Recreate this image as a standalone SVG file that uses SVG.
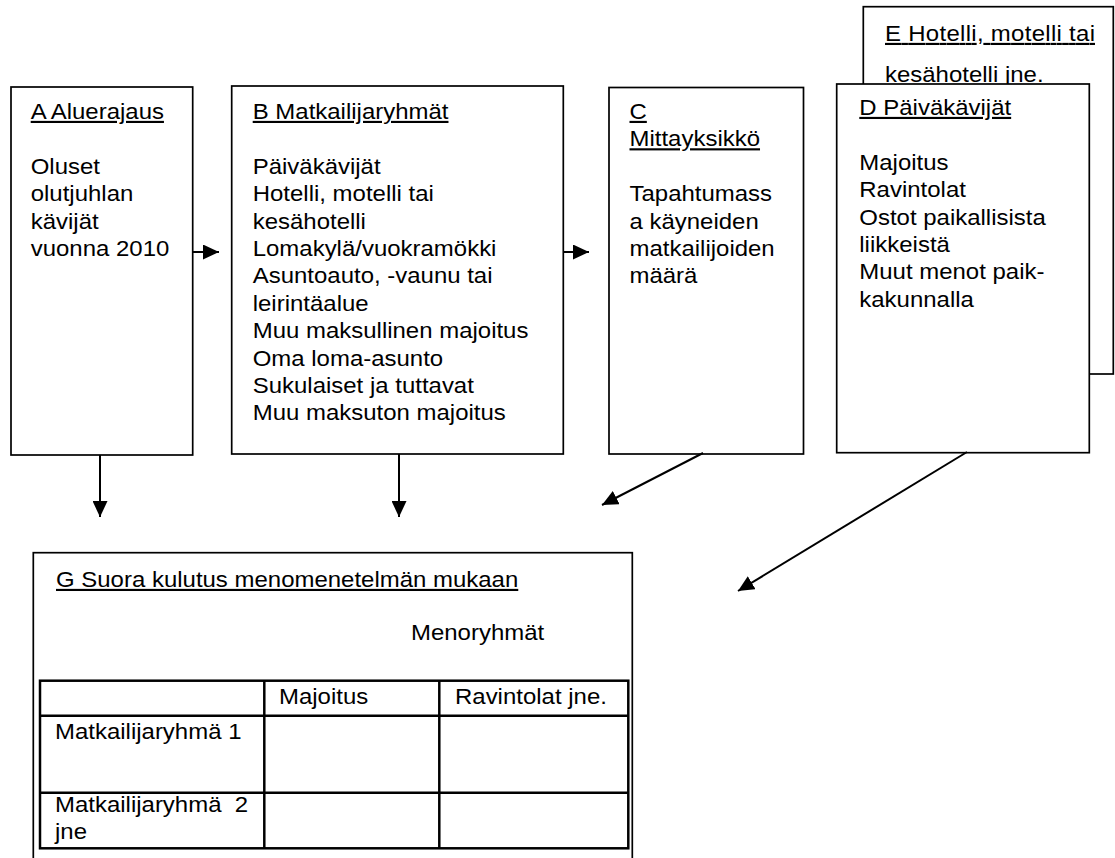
<svg xmlns="http://www.w3.org/2000/svg" width="1115" height="858" viewBox="0 0 1115 858">
<style>
.box{fill:#fff;stroke:#000;stroke-width:1.7}
.t{font-family:"Liberation Sans",Arial,sans-serif;font-size:21.4px;fill:#000}
.u{text-decoration:underline}
.conn{stroke:#000;stroke-width:2;fill:none}
.tbl{stroke:#000;stroke-width:2.5;fill:none}
</style>
<defs>
<marker id="ah" markerUnits="userSpaceOnUse" markerWidth="17" markerHeight="15" refX="16" refY="7.5" orient="auto">
<path d="M0,0 L16,7.5 L0,15 z" fill="#000"/>
</marker>
</defs>
<rect width="1115" height="858" fill="#fff"/>

<g id="nodeA">
<rect class="box" x="11" y="87" width="181.7" height="368"/>
<g transform="translate(30.7,0) scale(1.12,1)" class="t">
<text class="t u" x="0" y="119">A Aluerajaus</text>
<text class="t" x="0" y="173.8">Oluset</text>
<text class="t" x="0" y="201.2">olutjuhlan</text>
<text class="t" x="0" y="228.6">kävijät</text>
<text class="t" x="0" y="256">vuonna 2010</text>
</g>
</g>

<g id="nodeB">
<rect class="box" x="231.7" y="86" width="331.6" height="368"/>
<g transform="translate(252.7,0) scale(1.12,1)">
<text class="t u" x="0" y="119">B Matkailijaryhmät</text>
<text class="t" x="0" y="173.8">Päiväkävijät</text>
<text class="t" x="0" y="201.2">Hotelli, motelli tai</text>
<text class="t" x="0" y="228.6">kesähotelli</text>
<text class="t" x="0" y="256">Lomakylä/vuokramökki</text>
<text class="t" x="0" y="283.4">Asuntoauto, -vaunu tai</text>
<text class="t" x="0" y="310.8">leirintäalue</text>
<text class="t" x="0" y="338.2">Muu maksullinen majoitus</text>
<text class="t" x="0" y="365.6">Oma loma-asunto</text>
<text class="t" x="0" y="393">Sukulaiset ja tuttavat</text>
<text class="t" x="0" y="420.4">Muu maksuton majoitus</text>
</g>
</g>

<g id="nodeC">
<rect class="box" x="609" y="87.5" width="194.5" height="366.5"/>
<g transform="translate(629.5,0) scale(1.12,1)">
<text class="t u" x="0" y="119">C</text>
<text class="t u" x="0" y="146.4">Mittayksikkö</text>
<text class="t" x="0" y="201.2">Tapahtumass</text>
<text class="t" x="0" y="228.6">a käyneiden</text>
<text class="t" x="0" y="256">matkailijoiden</text>
<text class="t" x="0" y="283.4">määrä</text>
</g>
</g>

<g id="nodeE">
<rect class="box" x="863.3" y="6.7" width="250" height="367.3"/>
<g transform="translate(885,0) scale(1.12,1)">
<text class="t u" x="0" y="41" textLength="187.5" lengthAdjust="spacing">E Hotelli, motelli tai</text>
<text class="t" x="0" y="82">kesähotelli jne.</text>
</g>
</g>

<g id="nodeD">
<rect class="box" x="836.7" y="84" width="252.6" height="368.7"/>
<g transform="translate(859.3,0) scale(1.12,1)">
<text class="t u" x="0" y="115">D Päiväkävijät</text>
<text class="t" x="0" y="169.8">Majoitus</text>
<text class="t" x="0" y="197.2">Ravintolat</text>
<text class="t" x="0" y="224.6">Ostot paikallisista</text>
<text class="t" x="0" y="252">liikkeistä</text>
<text class="t" x="0" y="279.4">Muut menot paik-</text>
<text class="t" x="0" y="306.8">kakunnalla</text>
</g>
</g>

<g id="nodeG">
<rect class="box" x="33.3" y="552.7" width="599" height="330"/>
<g transform="translate(56,0) scale(1.12,1)">
<text class="t u" x="0" y="587">G Suora kulutus menomenetelmän mukaan</text>
</g>
<g transform="translate(411,0) scale(1.12,1)">
<text class="t" x="0" y="640">Menoryhmät</text>
</g>
<rect class="tbl" x="40" y="680.7" width="588.3" height="167.6"/>
<line class="tbl" x1="40" y1="715.7" x2="628.3" y2="715.7"/>
<line class="tbl" x1="40" y1="792.7" x2="628.3" y2="792.7"/>
<line class="tbl" x1="264.3" y1="680.7" x2="264.3" y2="848.3"/>
<line class="tbl" x1="439.3" y1="680.7" x2="439.3" y2="848.3"/>
<g transform="translate(279,0) scale(1.12,1)">
<text class="t" x="0" y="704">Majoitus</text>
</g>
<g transform="translate(455,0) scale(1.12,1)">
<text class="t" x="0" y="704">Ravintolat jne.</text>
</g>
<g transform="translate(55,0) scale(1.12,1)">
<text class="t" x="0" y="739">Matkailijaryhmä 1</text>
<text class="t" x="0" y="812" xml:space="preserve">Matkailijaryhmä  2</text>
<text class="t" x="0" y="839.5">jne</text>
</g>
</g>

<g id="connectors">
<line class="conn" x1="192.7" y1="252" x2="219" y2="252" marker-end="url(#ah)"/>
<line class="conn" x1="563.3" y1="252" x2="589" y2="252" marker-end="url(#ah)"/>
<line class="conn" x1="100" y1="455" x2="100" y2="517" marker-end="url(#ah)"/>
<line class="conn" x1="399" y1="454" x2="399" y2="517" marker-end="url(#ah)"/>
<line class="conn" x1="703" y1="453" x2="602" y2="505" marker-end="url(#ah)"/>
<line class="conn" x1="967" y1="452" x2="738" y2="591" marker-end="url(#ah)"/>
</g>
</svg>
